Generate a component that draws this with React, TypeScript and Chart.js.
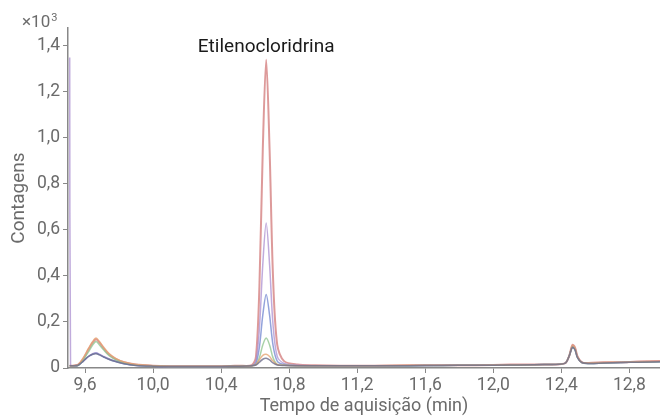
import React, { useEffect, useRef } from "react";
import { Chart, registerables } from "chart.js";

Chart.register(...registerables);

const times = [9.51, 9.515, 9.53, 9.56, 9.59, 9.62, 9.645, 9.665, 9.685, 9.71, 9.74, 9.78, 9.83, 9.9, 10.0, 10.1, 10.2, 10.3, 10.4, 10.5, 10.58, 10.605, 10.625, 10.645, 10.665, 10.685, 10.705, 10.73, 10.77, 10.85, 10.95, 11.1, 11.3, 11.5, 11.7, 11.9, 12.1, 12.3, 12.42, 12.445, 12.465, 12.48, 12.495, 12.52, 12.56, 12.65, 12.75, 12.85, 12.98];

const seriesRed = [0.01, 0.01, 0.01, 0.015, 0.04, 0.08, 0.11, 0.125, 0.11, 0.085, 0.06, 0.04, 0.025, 0.015, 0.01, 0.008, 0.008, 0.008, 0.008, 0.01, 0.012, 0.05, 0.35, 0.95, 1.34, 0.95, 0.4, 0.1, 0.03, 0.015, 0.012, 0.01, 0.01, 0.012, 0.012, 0.012, 0.015, 0.015, 0.02, 0.05, 0.1, 0.09, 0.05, 0.025, 0.022, 0.025, 0.025, 0.028, 0.03];
const seriesPurple = [1.35, 0.01, 0.01, 0.012, 0.03, 0.05, 0.062, 0.066, 0.06, 0.05, 0.04, 0.03, 0.02, 0.012, 0.008, 0.007, 0.007, 0.007, 0.007, 0.008, 0.01, 0.03, 0.17, 0.45, 0.63, 0.45, 0.19, 0.05, 0.02, 0.012, 0.01, 0.01, 0.01, 0.01, 0.012, 0.012, 0.014, 0.015, 0.02, 0.05, 0.095, 0.085, 0.05, 0.025, 0.02, 0.022, 0.024, 0.026, 0.028];
const seriesBlue = [0.01, 0.01, 0.01, 0.012, 0.03, 0.05, 0.06, 0.064, 0.058, 0.048, 0.038, 0.028, 0.018, 0.011, 0.008, 0.007, 0.007, 0.007, 0.007, 0.008, 0.01, 0.02, 0.09, 0.23, 0.32, 0.23, 0.1, 0.03, 0.015, 0.01, 0.01, 0.01, 0.01, 0.01, 0.011, 0.012, 0.013, 0.015, 0.02, 0.05, 0.09, 0.08, 0.045, 0.024, 0.02, 0.022, 0.024, 0.025, 0.027];
const seriesGreen = [0.01, 0.01, 0.01, 0.012, 0.035, 0.07, 0.1, 0.115, 0.1, 0.078, 0.055, 0.036, 0.022, 0.013, 0.009, 0.007, 0.007, 0.007, 0.007, 0.008, 0.01, 0.015, 0.045, 0.1, 0.13, 0.1, 0.045, 0.015, 0.012, 0.01, 0.01, 0.01, 0.01, 0.01, 0.011, 0.012, 0.013, 0.015, 0.02, 0.05, 0.092, 0.082, 0.046, 0.024, 0.02, 0.022, 0.024, 0.025, 0.027];
const seriesOrange = [0.01, 0.01, 0.01, 0.015, 0.045, 0.085, 0.115, 0.13, 0.115, 0.09, 0.064, 0.042, 0.026, 0.015, 0.01, 0.008, 0.008, 0.008, 0.008, 0.009, 0.01, 0.015, 0.035, 0.055, 0.06, 0.05, 0.03, 0.015, 0.012, 0.01, 0.01, 0.01, 0.01, 0.012, 0.012, 0.012, 0.014, 0.015, 0.02, 0.05, 0.098, 0.088, 0.05, 0.025, 0.022, 0.024, 0.025, 0.027, 0.029];
const seriesGray = [0.01, 0.01, 0.01, 0.012, 0.03, 0.05, 0.06, 0.062, 0.057, 0.048, 0.038, 0.028, 0.018, 0.011, 0.008, 0.007, 0.007, 0.007, 0.007, 0.008, 0.01, 0.013, 0.025, 0.038, 0.042, 0.035, 0.022, 0.013, 0.011, 0.01, 0.01, 0.01, 0.01, 0.01, 0.011, 0.012, 0.013, 0.015, 0.02, 0.05, 0.09, 0.08, 0.045, 0.024, 0.02, 0.022, 0.024, 0.025, 0.027];

const xTicks = [9.6, 10.0, 10.4, 10.8, 11.2, 11.6, 12.0, 12.4, 12.8];
const yTicks = [0, 0.2, 0.4, 0.6, 0.8, 1.0, 1.2, 1.4];

const peakLabel = "Etilenocloridrina";
const peakTime = 10.665;
const peakLabelValue = 1.4;
const yMultiplierBase = "×10";
const yMultiplierExp = "3";
const xTitle = "Tempo de aquisição (min)";
const yTitle = "Contagens";

const FONT = "Roboto, 'Noto Sans', sans-serif";
const TXT = "#6b6b6b";

const fmt = (v: number, d: number) => (v === 0 ? "0" : v.toFixed(d).replace(".", ","));

export default function App() {
  const ref = useRef<HTMLCanvasElement | null>(null);
  useEffect(() => {
    document.body.style.margin = "0";
    const ctx = ref.current!;
    const mk = (label: string, data: number[], color: string, w: number) => ({
      label,
      data: times.map((t, i) => ({ x: t, y: data[i] })),
      borderColor: color,
      backgroundColor: color,
      borderWidth: w,
      pointRadius: 0,
      tension: 0.3,
      fill: false,
    });
    const annot = {
      id: "annot",
      afterDatasetsDraw(chart: any) {
        const c = chart.ctx;
        const xs = chart.scales.x;
        const ys = chart.scales.y;
        c.save();
        c.font = `19px ${FONT}`;
        c.fillStyle = "#1a1a1a";
        c.textAlign = "center";
        c.textBaseline = "middle";
        c.fillText(peakLabel, xs.getPixelForValue(peakTime), ys.getPixelForValue(peakLabelValue) + 1);
        c.font = `17px ${FONT}`;
        c.fillStyle = TXT;
        c.textAlign = "left";
        c.textBaseline = "alphabetic";
        c.fillText(yMultiplierBase, 22, 27);
        const w = c.measureText(yMultiplierBase).width;
        c.font = `11px ${FONT}`;
        c.fillText(yMultiplierExp, 22 + w + 1, 21);
        c.restore();
      },
    };
    const chart = new Chart(ctx, {
      type: "line",
      data: {
        datasets: [
          mk("gray", seriesGray, "rgba(110,110,140,0.8)", 1.5),
          mk("orange", seriesOrange, "rgba(230,160,110,0.75)", 1.5),
          mk("green", seriesGreen, "rgba(140,195,140,0.75)", 1.5),
          mk("blue", seriesBlue, "rgba(120,140,210,0.8)", 1.5),
          mk("purple", seriesPurple, "rgba(165,135,205,0.7)", 1.5),
          mk("red", seriesRed, "rgba(210,120,120,0.75)", 2),
        ] as any,
      },
      options: {
        animation: false,
        responsive: false,
        maintainAspectRatio: false,
        layout: { padding: { top: 28, right: 0, left: 0, bottom: 0 } },
        plugins: { legend: { display: false }, tooltip: { enabled: false } },
        scales: {
          x: {
            type: "linear",
            min: 9.5,
            max: 12.98,
            afterBuildTicks: (s: any) => {
              s.ticks = xTicks.map((v) => ({ value: v }));
            },
            afterFit: (s: any) => {
              s.height = 49;
            },
            ticks: {
              callback: (v: any) => fmt(Number(v), 1),
              color: TXT,
              font: { family: FONT, size: 17.5 },
              padding: 2,
              maxRotation: 0,
              autoSkip: false,
            },
            grid: { display: true, drawOnChartArea: false, drawTicks: true, tickLength: 5, color: "#888" },
            border: { display: true, color: "#888", width: 1.5 },
            title: { display: true, text: xTitle, color: TXT, font: { family: FONT, size: 18 }, padding: { top: 0, bottom: 0 } },
          },
          y: {
            type: "linear",
            min: 0,
            max: 1.478,
            afterBuildTicks: (s: any) => {
              s.ticks = yTicks.map((v) => ({ value: v }));
            },
            afterFit: (s: any) => {
              s.width = 68;
            },
            ticks: {
              callback: (v: any) => fmt(Number(v), 1),
              color: TXT,
              font: { family: FONT, size: 17.5 },
              padding: 3,
              autoSkip: false,
            },
            grid: { display: true, drawOnChartArea: false, drawTicks: true, tickLength: 5, color: "#888" },
            border: { display: true, color: "#888", width: 1.5 },
            title: { display: true, text: yTitle, color: TXT, font: { family: FONT, size: 19 }, padding: { top: 8, bottom: 0 } },
          },
        },
      } as any,
      plugins: [annot],
    });
    return () => chart.destroy();
  }, []);
  return (
    <div style={{ position: "absolute", left: 0, top: 0, width: 660, height: 417 }}>
      <canvas ref={ref} width={660} height={417} style={{ width: 660, height: 417 }} />
    </div>
  );
}
